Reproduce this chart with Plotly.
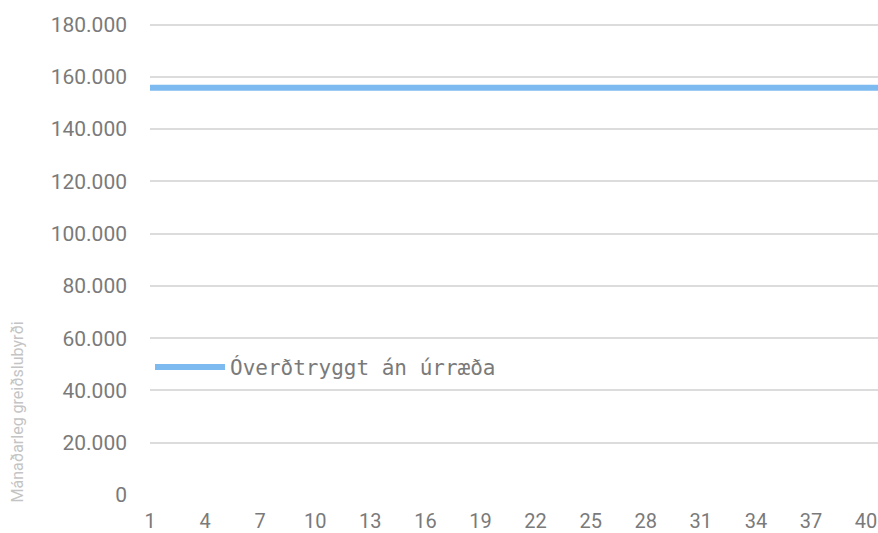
import plotly.graph_objects as go

# Years of the loan term and the monthly payment for each year
years = list(range(1, 42))
payment = [155800] * len(years)

series_name = "Óverðtryggt án úrræða"
y_title = "Mánaðarleg greiðslubyrði"

y_ticks = list(range(0, 180001, 20000))
y_labels = [f"{v:,}".replace(",", ".") for v in y_ticks]
x_ticks = list(range(1, 41, 3))

fig = go.Figure()
fig.add_trace(go.Scatter(
    x=years, y=payment, mode="lines", name=series_name,
    line=dict(color="#7cbaf0", width=6),
    showlegend=True,
))

fig.update_layout(
    width=878, height=533,
    margin=dict(l=150, r=0, t=22, b=36),
    paper_bgcolor="white", plot_bgcolor="white",
    font=dict(family="Roboto, sans-serif", color="#7a7a7a", size=20),
    showlegend=True,
    legend=dict(
        x=0.0, y=0.27, xanchor="left", yanchor="middle",
        bgcolor="rgba(0,0,0,0)",
        font=dict(size=21, family="DejaVu Sans Mono", color="#7a7a7a"),
        itemwidth=70,
    ),
    xaxis=dict(
        range=[1, 40.65], tickvals=x_ticks, ticktext=[str(v) for v in x_ticks],
        showgrid=False, zeroline=False, showline=False, ticks="",
        tickfont=dict(size=20, color="#7a7a7a"), ticklabelstandoff=12,
    ),
    yaxis=dict(
        range=[0, 181000], tickvals=y_ticks, ticktext=y_labels,
        showgrid=True, gridcolor="#dcdcdc", gridwidth=1.5,
        zeroline=False, showline=False, ticks="",
        tickfont=dict(size=21, color="#7a7a7a"), ticklabelstandoff=22,
    ),
    annotations=[dict(
        text=y_title, textangle=-90, xref="paper", yref="paper",
        x=-0.182, y=-0.02, xanchor="center", yanchor="bottom",
        showarrow=False, font=dict(size=16, color="#c4c4c4"),
    )],
)

fig.write_html("out.html")
